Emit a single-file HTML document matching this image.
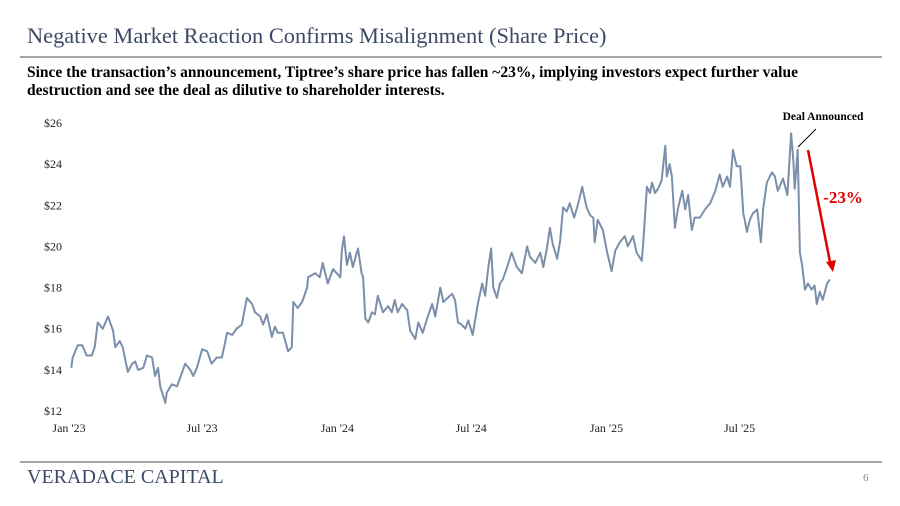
<!DOCTYPE html>
<html><head><meta charset="utf-8"><style>
body{margin:0;width:900px;height:506px;background:#fff;overflow:hidden;font-family:"Liberation Serif",serif;position:relative}
.t{position:absolute;white-space:nowrap}
</style></head><body>
<div class="t" style="left:27px;top:23px;font-size:22.4px;color:#3d4a66">Negative Market Reaction Confirms Misalignment (Share Price)</div>
<div style="position:absolute;left:20px;top:56px;width:862px;height:2px;background:#a6a6a6"></div>
<div class="t" style="left:27px;top:64px;font-size:15.5px;font-weight:bold;line-height:18px;color:#000">Since the transaction’s announcement, Tiptree’s share price has fallen ~23%, implying investors expect further value<br>destruction and see the deal as dilutive to shareholder interests.</div>
<svg id="chart" width="900" height="506" style="position:absolute;left:0;top:0" font-family="Liberation Serif, serif"></svg>
<div style="position:absolute;left:20px;top:461px;width:862px;height:2px;background:#a6a6a6"></div>
<div class="t" style="left:27px;top:466px;font-size:20px;color:#3d4a66">VERADACE CAPITAL</div>
<div class="t" style="left:863px;top:472px;font-size:11px;color:#888">6</div>
<script>
const days=[3,5,12,18,24,31,35,39,46,53,60,63,69,73,80,86,90,94,101,106,113,117,121,124,131,133,140,147,151,158,165,169,174,181,188,194,201,208,215,222,228,235,242,249,253,260,264,269,276,280,284,291,298,303,305,311,317,324,325,335,341,345,352,359,369,371,374,378,382,386,393,398,400,403,407,412,416,420,427,434,439,443,447,453,460,464,471,475,481,488,494,498,505,509,515,521,525,529,534,539,543,549,556,562,566,570,574,577,582,586,590,596,602,609,616,623,627,634,641,645,650,654,658,664,668,672,677,681,687,692,698,704,709,713,715,719,726,732,738,743,749,756,760,767,772,779,781,786,790,793,797,801,806,811,813,817,820,824,828,834,838,842,847,851,858,865,872,879,885,889,895,899,903,908,913,917,919,922,926,930,936,941,944,949,956,960,964,971,977,982,985,987,991,994,997,1001,1005,1010,1014,1017,1021,1025,1031,1035];
const prices=[14.1,14.6,15.2,15.2,14.7,14.7,15.1,16.3,16.0,16.6,15.9,15.1,15.4,15.1,13.9,14.3,14.4,14.0,14.1,14.7,14.6,13.7,14.1,13.2,12.4,12.9,13.3,13.2,13.6,14.3,14.0,13.7,14.1,15.0,14.9,14.3,14.6,14.6,15.8,15.7,16.0,16.2,17.5,17.2,16.8,16.6,16.2,16.7,15.6,16.1,15.8,15.8,14.9,15.1,17.3,17.0,17.3,18.0,18.5,18.7,18.5,19.2,18.2,18.9,18.5,19.8,20.5,19.1,19.7,19.0,19.9,18.7,18.5,16.5,16.3,16.8,16.7,17.6,16.8,17.1,16.8,17.4,16.8,17.2,16.9,15.9,15.5,16.3,15.8,16.6,17.2,16.6,18.0,17.3,17.5,17.7,17.4,16.3,16.2,16.0,16.4,15.7,17.2,18.2,17.6,18.9,19.9,18.0,17.5,18.2,18.4,19.0,19.7,19.0,18.7,20.0,19.5,19.2,19.7,19.0,19.9,20.9,20.1,19.4,20.3,21.9,21.7,22.1,21.4,22.0,22.9,21.9,21.5,21.4,20.2,21.3,20.8,19.7,18.8,19.8,20.2,20.5,20.0,20.5,19.7,19.3,20.2,22.9,22.6,23.1,22.6,22.8,23.2,24.9,23.4,24.0,23.4,20.9,21.8,22.7,21.8,22.5,20.8,21.4,21.4,21.8,22.1,22.7,23.5,22.9,23.4,22.9,24.7,23.9,23.9,21.6,21.3,20.7,21.3,21.6,21.8,20.2,21.8,23.1,23.6,23.4,22.7,23.3,22.5,25.5,24.2,22.8,24.7,19.7,19.1,17.9,18.2,17.9,18.1,17.2,17.8,17.4,18.2,18.4];
const yTicks=[12,14,16,18,20,22,24,26];
const xTickDays=[0,181,365,547,731,912];
const xTickLabels=["Jan '23","Jul '23","Jan '24","Jul '24","Jan '25","Jul '25"];
const NS="http://www.w3.org/2000/svg";
const svg=document.getElementById('chart');
const xS=d=>69+d/1.36;
const yS=p=>411-(p-12)*20.57;
function mk(tag,attrs,text){const e=document.createElementNS(NS,tag);for(const k in attrs)e.setAttribute(k,attrs[k]);if(text!==undefined)e.textContent=text;svg.appendChild(e);return e;}
yTicks.forEach(v=>{
  const t=mk('text',{x:62,y:yS(v)+4,'text-anchor':'end','font-size':12,fill:'#222'},'$'+v);
  
  
});
xTickDays.forEach((d,i)=>{
  const t=mk('text',{x:xS(d),y:432,'text-anchor':'middle','font-size':12,fill:'#222'},xTickLabels[i]);
  
  
});
const pts=days.map((d,i)=>xS(d).toFixed(1)+','+yS(prices[i]).toFixed(1)).join(' ');
const line=mk('polyline',{points:pts,fill:'none',stroke:'#7b8fab','stroke-width':2,'stroke-linejoin':'round'});


const dl=mk('line',{x1:798,y1:147,x2:816,y2:129,stroke:'#000','stroke-width':1});


const da=mk('text',{x:823,y:120,'text-anchor':'middle','font-size':11.5,'font-weight':'bold',fill:'#000'},'Deal Announced');


const ar=mk('line',{x1:808,y1:150,x2:830,y2:262,stroke:'#e00000','stroke-width':2.5});


const ah=mk('polygon',{points:'826,262 836,260 833,272',fill:'#e00000'});


const pc=mk('text',{x:843,y:203,'text-anchor':'middle','font-size':17,'font-weight':'bold',fill:'#e00000'},'-23%');


</script>
</body></html>
